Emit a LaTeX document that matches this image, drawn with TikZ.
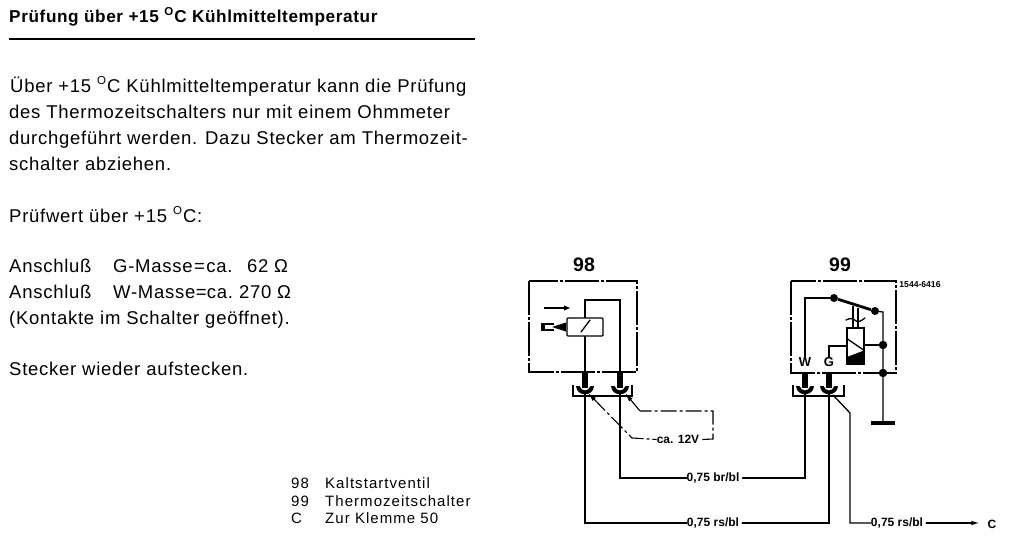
\documentclass[tikz,border=0pt]{standalone}
\usepackage{fontspec}
\setmainfont{Liberation Sans}
\newfontfamily\bodyf[LetterSpace=4]{Liberation Sans}
\newfontfamily\headf[LetterSpace=3.5]{Liberation Sans}
\newfontfamily\legf[LetterSpace=7]{Liberation Sans}
\usetikzlibrary{arrows.meta,calc}
\newcommand{\degO}{\raisebox{0.42em}{\fontsize{11.5}{11.5}\selectfont O}\hspace{0.06em}}
\newcommand{\cupat}[1]{\fill (#1) ++(-9,-2) .. controls +(0.5,11) and +(-0.5,11) .. ++(18,0) -- ++(-3.5,0) .. controls +(-2,6) and +(2,6) .. ++(-11,0) -- cycle;}
\tikzset{
 x=1pt,y=-1pt,
 body/.style={anchor=base west,inner sep=0pt,font=\bodyf\fontsize{18.5}{20}\selectfont},
 legend/.style={anchor=base west,inner sep=0pt,font=\legf\fontsize{15}{16}\selectfont},
 wire/.style={line width=1.3pt,line cap=round},
 thin wire/.style={line width=1.1pt},
 pin/.style={line width=5.5pt},
 boxline/.style={line width=1.2pt,dash pattern=on 34pt off 2pt on 3pt off 2pt},
 hint/.style={line width=1.1pt,dash pattern=on 16pt off 3pt on 3pt off 3pt},
 wlabel/.style={inner sep=0pt,font=\fontsize{12}{14}\bfseries\selectfont},
 num/.style={inner sep=0pt,font=\fontsize{19.5}{20}\bfseries\selectfont},
 dot/.style={circle,fill=black,inner sep=0pt,minimum size=7.5pt},
}
\begin{document}
\begin{tikzpicture}
\useasboundingbox (0,0) rectangle (1013,546);
% ---- text column
\node[body,font=\headf\fontsize{17.2}{18}\bfseries\selectfont] (head) at (9,23) {Prüfung über +15 \degO C Kühlmitteltemperatur};
\draw[line width=1.6pt] (9,39) -- (475,39);
\node[body] (t1) at (10,92.5) {Über +15 \degO C Kühlmitteltemperatur kann die Prüfung};
\node[body] (t2) at (9,118) {des Thermozeitschalters nur mit einem Ohmmeter};
\node[body] (t3) at (9,144) {durchgeführt werden. Dazu Stecker am Thermozeit-};
\node[body] (t4) at (9,170) {schalter abziehen.};
\node[body] (t5) at (9,222) {Prüfwert über +15 \degO C:};
\node[body] (t6) at (9,272) {\makebox[104pt][l]{Anschluß}\makebox[134pt][l]{G-Masse\hspace{0.08em}=\hspace{0.08em}ca.}62\hspace{0.3em}Ω};
\node[body] (t7) at (9,298) {\makebox[104pt][l]{Anschluß}\makebox[126pt][l]{W-Masse\hspace{0.02em}=\hspace{0.02em}ca.}270\hspace{0.3em}Ω};
\node[body] (t8) at (9,324) {(Kontakte im Schalter geöffnet).};
\node[body] (t9) at (9,375) {Stecker wieder aufstecken.};
\node[legend] (l1a) at (291,488) {98};
\node[legend] (l1b) at (325,488) {Kaltstartventil};
\node[legend] (l2a) at (291,506) {99};
\node[legend] (l2b) at (325,506) {Thermozeitschalter};
\node[legend] (l3a) at (291,523) {C};
\node[legend] (l3b) at (325,523) {Zur Klemme 50};
% ---- component 98
\node[num] (n98) at (584,265) {98};
\draw[boxline] (529,281) rectangle (637,372);
\coordinate (a1) at (585,372); \coordinate (a2) at (620,372);
\coordinate (a1t) at (585,388); \coordinate (a2t) at (620,388);
\draw[wire] (a1) -- (585,300) -- (620,300) -- (a2);
\node[draw,fill=white,line width=1.2pt,rounded corners=1pt,minimum width=36pt,minimum height=18pt,inner sep=0pt] (valve) at (585,327) {};
\draw[wire] (581,332) -- (590,320);
\draw[line width=2pt,-{Latex[length=7pt,width=5.5pt]}] (544,308) -- (571,308);
\coordinate (pl) at (554,327);
\draw[line width=1.2pt] (pl) ++(0,-3) -- +(-12,0) -- +(-12,6) -- +(0,6);
\fill (542,324) rectangle (544.5,330);
\draw[line width=1.5pt] (556,327) -- (valve.west);
\fill (566,322.5) -- (552,327) -- (566,331.5) -- cycle;
\draw[pin] (a1) -- (a1t);
\draw[pin] (a2) -- (a2t);
\cupat{a1t}
\cupat{a2t}
\draw[thin wire] (573,385) -- (573,396) -- (632,396) -- (632,385);
% ---- component 99
\node[num] (n99) at (840,265) {99};
\node[inner sep=0pt,font=\fontsize{8.6}{9}\bfseries\selectfont] (code) at (920,284.5) {1544-6416};
\draw[boxline] (791,281) rectangle (896,373);
\node[dot,minimum size=8pt] (sw1) at (834,298) {};
\node[dot,minimum size=8pt] (sw2) at (875,311) {};
\draw[line width=2.8pt] (sw1) -- (sw2);
\node[wlabel,font=\fontsize{13}{14}\bfseries\selectfont] (W) at (805,362) {W};
\node[wlabel,font=\fontsize{13}{14}\bfseries\selectfont] (G) at (829,362) {G};
\coordinate (wtop) at (805,298);
\draw[thin wire] (sw1) -- (wtop) -- (W.north);
\draw[thin wire] (853,306) -- (853,328) (858,308) -- (858,328);
\draw[wire] (846,320) .. controls (850,318) and (853,318) .. (856,321) .. controls (859,323) and (862,320) .. (865,318);
\node[draw,line width=1.2pt,minimum width=17pt,minimum height=36pt,inner sep=0pt] (coil) at (855.5,346) {};
\draw[wire] (847.5,339) -- (863.5,350);
\fill (847,357) -- (864,350.5) -- (864,364) -- (847,364) -- cycle;
\node[dot,minimum size=8.5pt] (d1) at (883,345) {};
\node[dot,minimum size=8.5pt] (d2) at (883,373) {};
\coordinate (gnd) at (883,423);
\draw[wire] (sw2) -- (883,312) -- (d1) -- (d2) -- (gnd);
\draw[line width=4.5pt] (871,423) -- (895,423);
\draw[wire] (coil.east |- d1) -- (d1);
\draw[wire] (G.north) -- (829,346) -- (coil.west |- 0,346);
\coordinate (b1) at (805,373); \coordinate (b2) at (829,373);
\coordinate (b1t) at (805,388); \coordinate (b2t) at (829,388);
\draw[pin] (b1) -- (b1t);
\draw[pin] (b2) -- (b2t);
\cupat{b1t}
\cupat{b2t}
\draw[thin wire] (793,385) -- (793,396) -- (844,396) -- (844,385);
% ---- hint circuit
\node[wlabel] (v12) at (678,439.5) {ca. 12V};
\coordinate (h1) at (632,438); \coordinate (h2) at (713,439); \coordinate (h3) at (713,411);
\coordinate (h4) at (640,411);
\draw[hint,{Latex[length=9pt,width=4.5pt]}-] (588,393) -- (h1) -- (v12.west);
\coordinate (v12e) at ($(v12.east)+(3,0)$);
\draw[hint] (v12e) -- (h2) -- (h3) -- (h4);
\draw[thin wire,{Latex[length=9pt,width=4.5pt]}-] (625,393) -- (h4);
% ---- wiring
\node[wlabel] (w1) at (713,478) {0,75 br/bl};
\node[wlabel] (w2) at (713,523) {0,75 rs/bl};
\node[wlabel] (w3) at (897,523) {0,75 rs/bl};
\node[inner sep=0pt,font=\fontsize{12}{14}\bfseries\selectfont] (cc) at (992,524) {C};
\coordinate (w1e) at ($(w1.east)+(3,0)$);
\coordinate (w2e) at ($(w2.east)+(3,0)$);
\coordinate (w3e) at ($(w3.east)+(3,0)$);
\coordinate (cct) at ($(cc.west)+(-8,-1)$);
\draw[wire] (585,392) |- (w2.west);
\draw[wire] (620,392) |- (w1.west);
\draw[wire] (w1e) -| (805,392);
\draw[wire] (w2e) -| (829,392);
\coordinate (t0) at (833,395);
\draw[wire] (t0) -- (850,413) |- (w3.west);
\draw[wire,-{Latex[length=8pt,width=4.5pt]}] (w3e) -- (w3e -| cct);
\end{tikzpicture}
\end{document}
